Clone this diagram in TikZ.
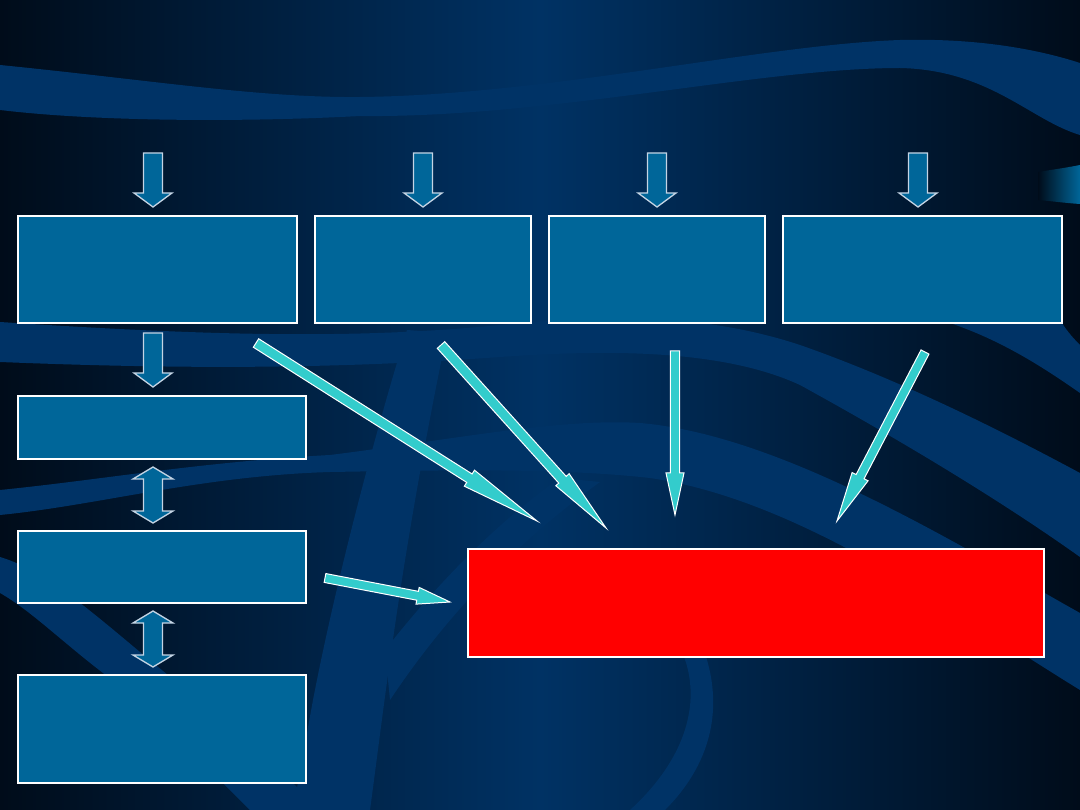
\documentclass[tikz,border=0pt]{standalone}
\usepackage{tikz}
\usetikzlibrary{calc}

\definecolor{bgdark}{RGB}{0,12,26}
\definecolor{bgmid}{RGB}{0,50,100}
\definecolor{bandblue}{RGB}{0,51,102}
\definecolor{boxblue}{RGB}{0,102,153}
\definecolor{arrowcyan}{RGB}{51,204,204}
\definecolor{rimgray}{RGB}{196,212,228}
\definecolor{glowblue}{RGB}{0,160,210}

% block arrow: [style]{from}{to}{half shaft}{half head}{head length}
\newcommand{\blkarrow}[6][]{%
  \coordinate (hb) at ($(#3)!#6!(#2)$);
  \draw[#1] ($(#2)!#4!90:(#3)$) -- ($(hb)!#4!90:(#3)$) -- ($(hb)!#5!90:(#3)$) -- (#3)
    -- ($(hb)!#5!-90:(#3)$) -- ($(hb)!#4!-90:(#3)$) -- ($(#2)!#4!-90:(#3)$) -- cycle;
}
% double block arrow, same arguments
\newcommand{\blkdarrow}[6][]{%
  \coordinate (ha) at ($(#2)!#6!(#3)$);
  \coordinate (hb) at ($(#3)!#6!(#2)$);
  \draw[#1] (#2) -- ($(ha)!#5!90:(#3)$) -- ($(ha)!#4!90:(#3)$) -- ($(hb)!#4!90:(#3)$)
    -- ($(hb)!#5!90:(#3)$) -- (#3) -- ($(hb)!#5!-90:(#3)$) -- ($(hb)!#4!-90:(#3)$)
    -- ($(ha)!#4!-90:(#3)$) -- ($(ha)!#5!-90:(#3)$) -- cycle;
}

\begin{document}
\begin{tikzpicture}[x=1pt, y=-1pt,
  bluebox/.style={draw=white, line width=2pt, fill=boxblue, inner sep=0pt},
  redbox/.style={draw=white, line width=2pt, fill=red, inner sep=0pt},
  band/.style={fill=bandblue, draw=none},
  fatarrow/.style={draw=rimgray, line width=1.3pt, fill=boxblue},
  cyanarrow/.style={draw=white, line width=1pt, fill=arrowcyan}
]

% ===== Background =====
\shade[left color=bgdark, right color=bgdark, middle color=bgmid] (0,0) rectangle (1080,810);
\useasboundingbox (0,0) rectangle (1080,810);

% top wave
\shade[left color=bandblue, middle color=bgdark, right color=bandblue]
  (0,65) .. controls (150,80) and (260,98) .. (360,97) .. controls (550,95) and (760,45) .. (900,40)
  .. controls (980,38) and (1040,50) .. (1080,63) -- (1080,135) .. controls (1030,120) and (990,70) .. (900,68)
  .. controls (760,68) and (550,118) .. (360,116) .. controls (250,122) and (100,122) .. (0,110) -- cycle;
\shade[left color=bgdark, middle color=glowblue, right color=boxblue]
  (1038,172) .. controls (1050,170) and (1065,168) .. (1080,165) -- (1080,204)
  .. controls (1065,203) and (1050,201) .. (1038,200) -- cycle;

% waves across the middle
\fill[band] (0,322) .. controls (200,335) and (350,340) .. (500,325) .. controls (600,315) and (700,312) .. (800,345)
  .. controls (900,380) and (1000,430) .. (1080,473) -- (1080,557) .. controls (1000,500) and (900,440) .. (800,385)
  .. controls (720,348) and (600,350) .. (500,357) .. controls (350,368) and (200,370) .. (0,362) -- cycle;
\fill[band] (0,490) .. controls (100,480) and (200,462) .. (330,455) .. controls (450,440) and (560,418) .. (640,423)
  .. controls (780,435) and (950,540) .. (1080,613) -- (1080,690) .. controls (950,610) and (800,500) .. (650,478)
  .. controls (560,468) and (450,470) .. (330,472) .. controls (200,476) and (100,505) .. (0,515) -- cycle;
\fill[band] (950,323) .. controls (1000,340) and (1040,365) .. (1080,393) -- (1080,345)
  .. controls (1070,335) and (1065,328) .. (1060,320) -- cycle;
\fill[band] (0,557) .. controls (60,575) and (120,640) .. (200,700) .. controls (250,740) and (290,780) .. (320,810)
  -- (250,810) .. controls (200,760) and (150,710) .. (103,673) .. controls (60,640) and (30,610) .. (0,593) -- cycle;
\fill[band] (407,330) .. controls (385,400) and (340,560) .. (313,700) -- (293,810) -- (370,810)
  .. controls (385,700) and (400,560) .. (447,333) -- cycle;
\fill[band] (560,478) .. controls (500,520) and (440,580) .. (385,650) -- (390,700) .. controls (450,610) and (520,540) .. (600,482) -- cycle;
\fill[band] (680,647) .. controls (705,700) and (685,760) .. (630,810) -- (665,810) .. controls (715,760) and (725,700) .. (700,640) -- cycle;

% ===== Boxes =====
\node[bluebox, minimum width=279pt, minimum height=107pt] (ctxA) at (157.5,269.5) {};
\node[bluebox, minimum width=216pt, minimum height=107pt] (ctxB) at (423,269.5) {};
\node[bluebox, minimum width=216pt, minimum height=107pt] (ctxC) at (657,269.5) {};
\node[bluebox, minimum width=279pt, minimum height=107pt] (ctxD) at (922.5,269.5) {};

\node[bluebox, minimum width=288pt, minimum height=63pt] (stepE) at (162,427.5) {};
\node[bluebox, minimum width=288pt, minimum height=72pt] (stepF) at (162,567) {};
\node[bluebox, minimum width=288pt, minimum height=108pt] (stepG) at (162,729) {};

\node[redbox, minimum width=576pt, minimum height=108pt] (goal) at (756,603) {};

% ===== Block arrows into the top row =====
\coordinate (inA) at (153,153);  \coordinate (toA) at (153,207);
\coordinate (inB) at (423,153);  \coordinate (toB) at (423,207);
\coordinate (inC) at (657,153);  \coordinate (toC) at (657,207);
\coordinate (inD) at (918,153);  \coordinate (toD) at (918,207);
\blkarrow[fatarrow]{inA}{toA}{9.5pt}{19pt}{14pt}
\blkarrow[fatarrow]{inB}{toB}{9.5pt}{19pt}{14pt}
\blkarrow[fatarrow]{inC}{toC}{9.5pt}{19pt}{14pt}
\blkarrow[fatarrow]{inD}{toD}{9.5pt}{19pt}{14pt}

% ===== Left column =====
\coordinate (outA) at (153,333); \coordinate (toE) at (153,387);
\blkarrow[fatarrow]{outA}{toE}{9.5pt}{19pt}{14pt}
\coordinate (ef1) at (153,467); \coordinate (ef2) at (153,523);
\blkdarrow[fatarrow]{ef1}{ef2}{9.5pt}{20pt}{12pt}
\coordinate (fg1) at (153,611); \coordinate (fg2) at (153,667);
\blkdarrow[fatarrow]{fg1}{fg2}{9.5pt}{20pt}{12pt}

% ===== Cyan arrows to the red box =====
\coordinate (fromA) at (256,343); \coordinate (goalA) at (537,521);
\coordinate (fromB) at (441,345); \coordinate (goalB) at (606,528);
\coordinate (fromC) at (675,351); \coordinate (goalC) at (675,515);
\coordinate (fromD) at (925,352); \coordinate (goalD) at (837,521);
\coordinate (fromF) at (325,578); \coordinate (goalF) at (450,602);
\blkarrow[cyanarrow]{fromA}{goalA}{5pt}{9.5pt}{80pt}
\blkarrow[cyanarrow]{fromB}{goalB}{5pt}{9pt}{65pt}
\blkarrow[cyanarrow]{fromC}{goalC}{4.7pt}{9pt}{42pt}
\blkarrow[cyanarrow]{fromD}{goalD}{4.5pt}{9pt}{50pt}
\blkarrow[cyanarrow]{fromF}{goalF}{4.5pt}{8.5pt}{33pt}

\end{tikzpicture}
\end{document}
